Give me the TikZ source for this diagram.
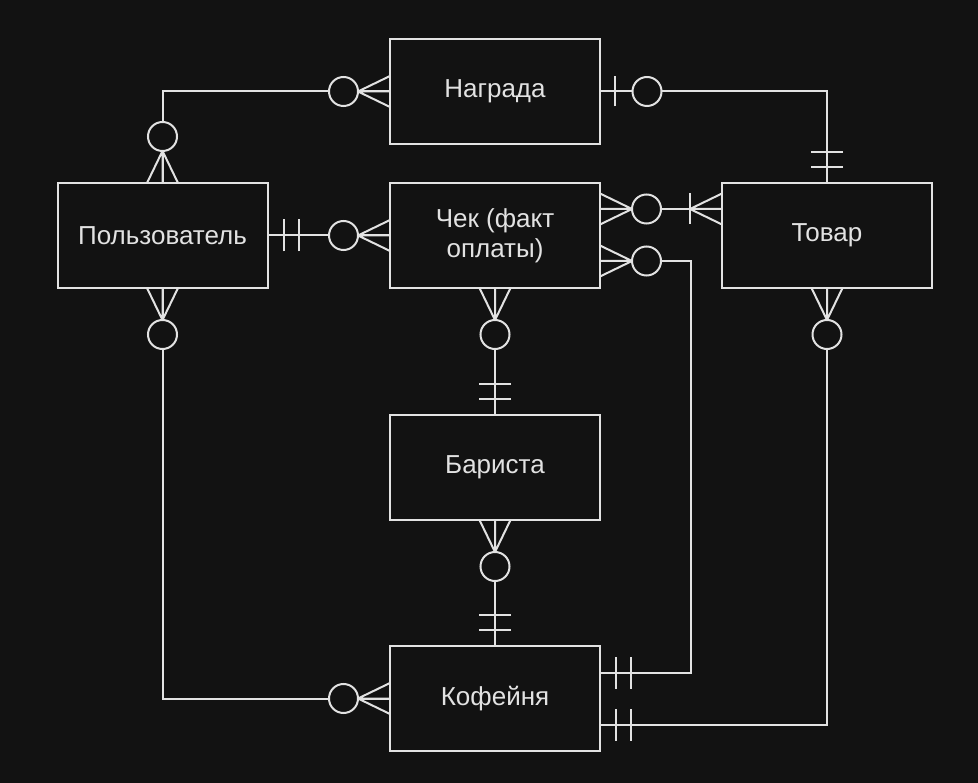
\documentclass[tikz,border=0pt]{standalone}
\usepackage{fontspec}
\setmainfont{Liberation Sans}
\usetikzlibrary{calc}
\definecolor{bg}{HTML}{121212}
\definecolor{ln}{HTML}{E2E2E2}
\begin{document}
\begin{tikzpicture}[x=1pt,y=-1pt,
  ent/.style={draw=ln,line width=2pt,fill=bg,minimum width=210pt,minimum height=105pt,inner sep=0pt,outer sep=0pt,text=ln,font=\fontsize{26}{30}\selectfont,align=center},
  conn/.style={draw=ln,line width=2pt},
  pics/erzm/.style={code={
    \draw[conn] (0,15.5) -- (32,0) -- (0,-15.5) (0,0) -- (32,0);
    \draw[conn,fill=bg] (46.5,0) circle[radius=14.5pt];}},
  pics/erzo/.style={code={
    \draw[conn] (15,15) -- (15,-15);
    \draw[conn,fill=bg] (47,0) circle[radius=14.5pt];}},
  pics/erom/.style={code={
    \draw[conn] (0,15.5) -- (32,0) -- (0,-15.5) (0,0) -- (32,0);
    \draw[conn] (32,15.5) -- (32,-15.5);}},
  pics/eroo/.style={code={
    \draw[conn] (16,16) -- (16,-16) (31,16) -- (31,-16);}}
]
\fill[bg] (0,0) rectangle (978,783);
\useasboundingbox (0,0) rectangle (978,783);

\coordinate (award) at (495,91.5);
\coordinate (user) at (162.5,235.5);
\coordinate (check) at (495,235.5);
\coordinate (prod) at (827,235.5);
\coordinate (bar) at (495,467.5);
\coordinate (cafe) at (495,698.5);

\node[ent] (nAward) at (award) {Награда};
\node[ent] (nUser) at (user) {Пользователь};
\node[ent] (nCheck) at (check) {Чек (факт\\оплаты)};
\node[ent] (nProd) at (prod) {Товар};
\node[ent] (nBar) at (bar) {Бариста};
\node[ent] (nCafe) at (cafe) {Кофейня};

\coordinate (c1) at ($(nCheck.east)+(0,-26.5)$);
\coordinate (c2) at ($(nCheck.east)+(0,25.5)$);
\coordinate (p1) at ($(nProd.west)+(0,-26.5)$);
\coordinate (k1) at ($(nCafe.east)+(0,-26)$);
\coordinate (k2) at ($(nCafe.east)+(0,26)$);
\coordinate (v1) at ($(c2)+(91,0)$);

\draw[conn] (nUser.north) |- (nAward.west);
\draw[conn] (nAward.east) -| (nProd.north);
\draw[conn] (nUser.east) -- (nCheck.west);
\draw[conn] (c1) -- (p1);
\draw[conn] (c2) -- (v1) |- (k1);
\draw[conn] (nUser.south) |- (nCafe.west);
\draw[conn] (nCheck.south) -- (nBar.north);
\draw[conn] (nBar.south) -- (nCafe.north);
\draw[conn] (nProd.south) |- (k2);

\pic[rotate=90] at (nUser.north) {erzm};
\pic[rotate=180] at (nAward.west) {erzm};
\pic at (nAward.east) {erzo};
\pic[rotate=90] at (nProd.north) {eroo};
\pic at (nUser.east) {eroo};
\pic[rotate=180] at (nCheck.west) {erzm};
\pic at (c1) {erzm};
\pic[rotate=180] at (p1) {erom};
\pic at (c2) {erzm};
\pic at (k1) {eroo};
\pic[rotate=270] at (nUser.south) {erzm};
\pic[rotate=180] at (nCafe.west) {erzm};
\pic[rotate=270] at (nCheck.south) {erzm};
\pic[rotate=90] at (nBar.north) {eroo};
\pic[rotate=270] at (nBar.south) {erzm};
\pic[rotate=90] at (nCafe.north) {eroo};
\pic[rotate=270] at (nProd.south) {erzm};
\pic at (k2) {eroo};
\end{tikzpicture}
\end{document}
